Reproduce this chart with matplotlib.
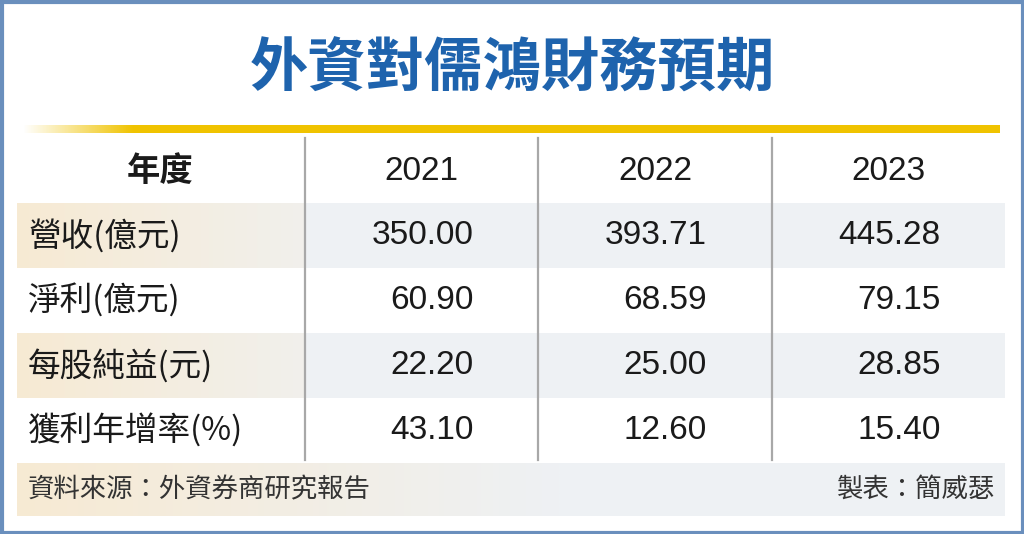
import matplotlib
matplotlib.use("Agg")
import matplotlib.pyplot as plt
import numpy as np
from matplotlib.patches import Rectangle

plt.rcParams['font.family'] = ['Noto Sans CJK TC', 'DejaVu Sans']

# ---- data ----
title = '外資對儒鴻財務預期'
header_label = '年度'
years = ['2021', '2022', '2023']
row_labels = ['營收(億元)', '淨利(億元)', '每股純益(元)', '獲利年增率(%)']
revenue = [350.00, 393.71, 445.28]
net_income = [60.90, 68.59, 79.15]
eps = [22.20, 25.00, 28.85]
growth = [43.10, 12.60, 15.40]
source = '資料來源：外資券商研究報告'
maker = '製表：簡威瑟'

rows = [revenue, net_income, eps, growth]

W, H = 1024, 534
fig = plt.figure(figsize=(W / 100, H / 100), dpi=100)
ax = fig.add_axes([0, 0, 1, 1])
ax.set_xlim(0, W)
ax.set_ylim(H, 0)
ax.axis('off')

blue_border = '#6a8fbd'
title_blue = '#1e63ad'
yellow = '#f0c300'
text_col = '#1a1a1a'
grey_cell = '#eef1f4'
sep_col = '#a8a8a8'

# outer frame
ax.add_patch(Rectangle((1.5, 1.5), W - 3, H - 3, fill=False, ec=blue_border, lw=3, zorder=10))

# title
ax.text(W / 2, 70, title, ha='center', va='center', fontsize=42, fontweight='bold', color=title_blue)

# yellow rule with fade-in on the left
ry0, ry1 = 125, 133
rx0, rx1 = 22, 1000
n = 400
grad = np.ones((1, n, 4))
c = matplotlib.colors.to_rgb(yellow)
grad[..., 0], grad[..., 1], grad[..., 2] = c
xs = np.linspace(rx0, rx1, n)
grad[0, :, 3] = np.clip((xs - rx0) / 110.0, 0, 1)
ax.imshow(grad, extent=(rx0, rx1, ry1, ry0), aspect='auto', zorder=2, interpolation='bilinear')

# layout
table_left, table_right = 17, 1005
col_edges = [table_left, 305, 538, 772, table_right]
label_x = 28
header_y = 172
row_top0 = 203
row_h = 65
header_top = 138

def beige_fade(x0, x1, y0, y1, end_rgb):
    g = np.zeros((1, 200, 3))
    beige = np.array(matplotlib.colors.to_rgb('#f7ead3'))
    endc = np.array(matplotlib.colors.to_rgb(end_rgb))
    t = np.linspace(0, 1, 200)[:, None]
    g[0] = beige * (1 - t) + endc * t
    ax.imshow(g, extent=(x0, x1, y1, y0), aspect='auto', zorder=1, interpolation='bilinear')

# shaded bands (rows 0 and 2)
for i in range(len(rows)):
    y0 = row_top0 + i * row_h
    if i % 2 == 0:
        beige_fade(table_left, col_edges[1], y0, y0 + row_h, '#f1f0ec')
        ax.add_patch(Rectangle((col_edges[1], y0), table_right - col_edges[1], row_h,
                               fc=grey_cell, ec='none', zorder=1))

# footer band
foot_top = row_top0 + len(rows) * row_h
foot_bot = 516
beige_fade(table_left, 560, foot_top, foot_bot, grey_cell)
ax.add_patch(Rectangle((560, foot_top), table_right - 560, foot_bot - foot_top,
                       fc=grey_cell, ec='none', zorder=1))

# vertical separators
for x in col_edges[1:4]:
    ax.plot([x, x], [header_top, foot_top - 3], color=sep_col, lw=1.6, zorder=3)

# header
ax.text(160, header_y, header_label, ha='center', va='center',
        fontsize=24, color=text_col, fontweight='bold')
for j, yr in enumerate(years):
    cx = (col_edges[j + 1] + col_edges[j + 2]) / 2
    ax.text(cx, header_y, yr, ha='center', va='center', fontsize=24,
            family='Liberation Sans', color=text_col)

# rows
for i, (lab, vals) in enumerate(zip(row_labels, rows)):
    cy = row_top0 + i * row_h + row_h / 2
    ax.text(label_x, cy, lab, ha='left', va='center', fontsize=23.5, color=text_col)
    for j, v in enumerate(vals):
        cx = (col_edges[j + 1] + col_edges[j + 2]) / 2
        ax.text(cx + 52, cy, f'{v:.2f}', ha='right', va='center', fontsize=24,
                family='Liberation Sans', color=text_col)

# footer
fy = (foot_top + foot_bot) / 2
ax.text(label_x, fy, source, ha='left', va='center', fontsize=19, color='#333333')
ax.text(995, fy, maker, ha='right', va='center', fontsize=19, color='#333333')

fig.savefig('out.png', dpi=100)
